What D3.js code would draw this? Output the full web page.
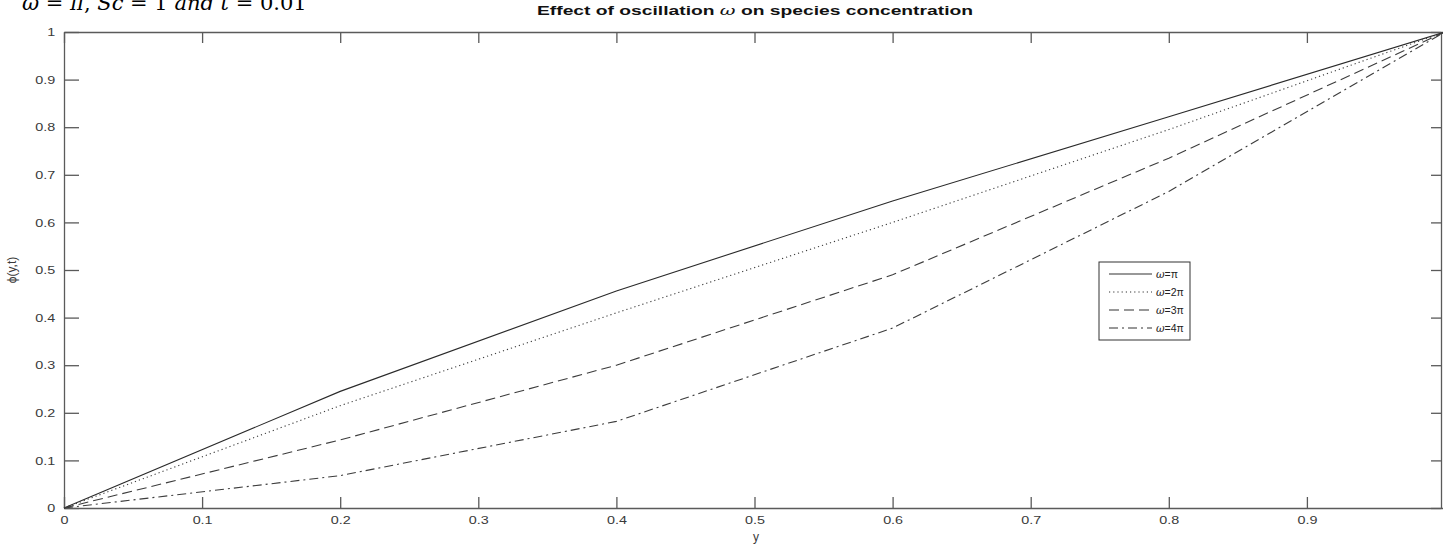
<!DOCTYPE html>
<html>
<head>
<meta charset="utf-8">
<script src="https://cdnjs.cloudflare.com/ajax/libs/d3/7.8.5/d3.min.js"></script>
<style>
  body { margin: 0; background: #fff; }
  svg { display: block; }
</style>
</head>
<body>
<svg id="chart" width="1443" height="544"></svg>
<script>
// values
var yPoints = [0, 0.2, 0.4, 0.6, 0.8, 1.0];
var phiOmega1 = [0, 0.245, 0.456, 0.645, 0.822, 1.0];
var phiOmega2 = [0, 0.215, 0.41, 0.60, 0.795, 1.0];
var phiOmega3 = [0, 0.143, 0.30, 0.49, 0.735, 1.0];
var phiOmega4 = [0, 0.068, 0.182, 0.378, 0.665, 1.0];
var seriesNames = ["\u03C9=\u03C0", "\u03C9=2\u03C0", "\u03C9=3\u03C0", "\u03C9=4\u03C0"];
var xTicks = [0, 0.1, 0.2, 0.3, 0.4, 0.5, 0.6, 0.7, 0.8, 0.9];
var yTicks = [0, 0.1, 0.2, 0.3, 0.4, 0.5, 0.6, 0.7, 0.8, 0.9, 1];

var dashes = ["none", "1.2,3", "10,5", "9,4,2,4"];
var allSeries = [phiOmega1, phiOmega2, phiOmega3, phiOmega4];

var svg = d3.select("#chart");
var plotLeft = 64, plotRight = 1445, plotTop = 32, plotBottom = 508;

var x = d3.scaleLinear().domain([0, 1]).range([plotLeft, plotRight]);
var y = d3.scaleLinear().domain([0, 1]).range([plotBottom, plotTop]);

svg.append("rect").attr("width", 1443).attr("height", 544).attr("fill", "#fff");

// axes (MATLAB style box, ticks inward)
var tickFmt = d3.format("");
var axisColor = "#5a5a5a";

// the figure was stretched sideways, so the labels are a bit wider
function styleAxis(g) {
  g.select(".domain").attr("stroke", axisColor).attr("stroke-width", 1.3);
  g.selectAll(".tick line").attr("stroke", axisColor).attr("stroke-width", 1.3);
  g.selectAll(".tick text")
    .attr("fill", "#3a3a3a")
    .style("font-family", "'Liberation Sans', Arial, sans-serif")
    .style("font-size", "11.5px")
    .attr("transform", "scale(1.25,1)");
}

svg.append("g")
  .attr("transform", "translate(0," + plotBottom + ")")
  .call(d3.axisBottom(x).tickValues(xTicks).tickFormat(tickFmt).tickSizeInner(-11).tickSizeOuter(0).tickPadding(8))
  .call(styleAxis)
  .selectAll(".tick text").attr("transform", null)
  .each(function () {
    var t = d3.select(this);
    t.attr("transform", "scale(1.25,1)").attr("x", 0);
  });

svg.append("g")
  .attr("transform", "translate(0," + plotTop + ")")
  .call(d3.axisTop(x).tickValues(xTicks).tickFormat("").tickSizeInner(-11).tickSizeOuter(0))
  .call(styleAxis);

svg.append("g")
  .attr("transform", "translate(" + plotLeft + ",0)")
  .call(d3.axisLeft(y).tickValues(yTicks).tickFormat(tickFmt).tickSizeInner(-15).tickSizeOuter(0).tickPadding(7))
  .call(styleAxis);

svg.append("g")
  .attr("transform", "translate(1441,0)")
  .call(d3.axisRight(y).tickValues(yTicks).tickFormat("").tickSizeInner(-10).tickSizeOuter(0))
  .call(styleAxis);

// lines
var line = d3.line()
  .x((d, i) => x(yPoints[i]))
  .y((d) => y(d));

svg.selectAll("path.series")
  .data(allSeries)
  .enter()
  .append("path")
  .attr("class", "series")
  .attr("d", line)
  .attr("fill", "none")
  .attr("stroke", (d, i) => (i == 0 ? "#2a2a2a" : "#3c3c3c"))
  .attr("stroke-width", 1.1)
  .attr("stroke-dasharray", (d, i) => dashes[i]);

// title
svg.append("text")
  .attr("x", 537)
  .attr("y", 15)
  .attr("textLength", 436)
  .attr("lengthAdjust", "spacingAndGlyphs")
  .style("font-family", "'Liberation Sans', Arial, sans-serif")
  .style("font-weight", "bold")
  .style("font-size", "13px")
  .attr("fill", "#111")
  .html("Effect of oscillation <tspan font-family='DejaVu Serif' font-style='italic' font-weight='normal'>\u03C9</tspan> on species concentration");

// caption at top left, cut off by the page edge
svg.append("text")
  .attr("x", 22)
  .attr("y", 10)
  .style("font-family", "'DejaVu Serif', 'Liberation Serif', serif")
  .style("font-size", "21px")
  .attr("fill", "#000")
  .html("<tspan font-style='italic'>\u03C9</tspan> = <tspan font-style='italic'>\u03C0</tspan>, <tspan font-style='italic'>Sc</tspan> = 1 <tspan font-style='italic'>and t</tspan> = 0.01");

// axis labels
svg.append("text")
  .attr("x", 756)
  .attr("y", 541)
  .attr("text-anchor", "middle")
  .style("font-family", "'Liberation Sans', Arial, sans-serif")
  .style("font-size", "12px")
  .attr("fill", "#3a3a3a")
  .text("y");

svg.append("text")
  .attr("transform", "translate(16,270) rotate(-90)")
  .attr("text-anchor", "middle")
  .style("font-family", "'Liberation Sans', Arial, sans-serif")
  .style("font-size", "12px")
  .attr("fill", "#3a3a3a")
  .text("\u03D5(y,t)");

// legend
var lgX = 1099, lgY = 262, lgW = 91, lgH = 78;
var legend = svg.append("g");
legend.append("rect")
  .attr("x", lgX).attr("y", lgY).attr("width", lgW).attr("height", lgH)
  .attr("fill", "#fff").attr("stroke", "#333").attr("stroke-width", 1);

var items = legend.selectAll("g.item")
  .data(seriesNames)
  .enter()
  .append("g")
  .attr("class", "item")
  .attr("transform", (d, i) => "translate(0," + (lgY + 12 + i * 18) + ")");

items.append("line")
  .attr("x1", lgX + 10).attr("x2", lgX + 53)
  .attr("stroke", "#333").attr("stroke-width", 1.1)
  .attr("stroke-dasharray", (d, i) => dashes[i]);

items.append("text")
  .attr("x", lgX + 57)
  .attr("y", 4)
  .style("font-family", "'Liberation Sans', Arial, sans-serif")
  .style("font-size", "10.5px")
  .attr("fill", "#222")
  .html((d) => "<tspan font-family='DejaVu Serif' font-style='italic'>\u03C9</tspan>" + d.slice(1));
</script>
</body>
</html>
